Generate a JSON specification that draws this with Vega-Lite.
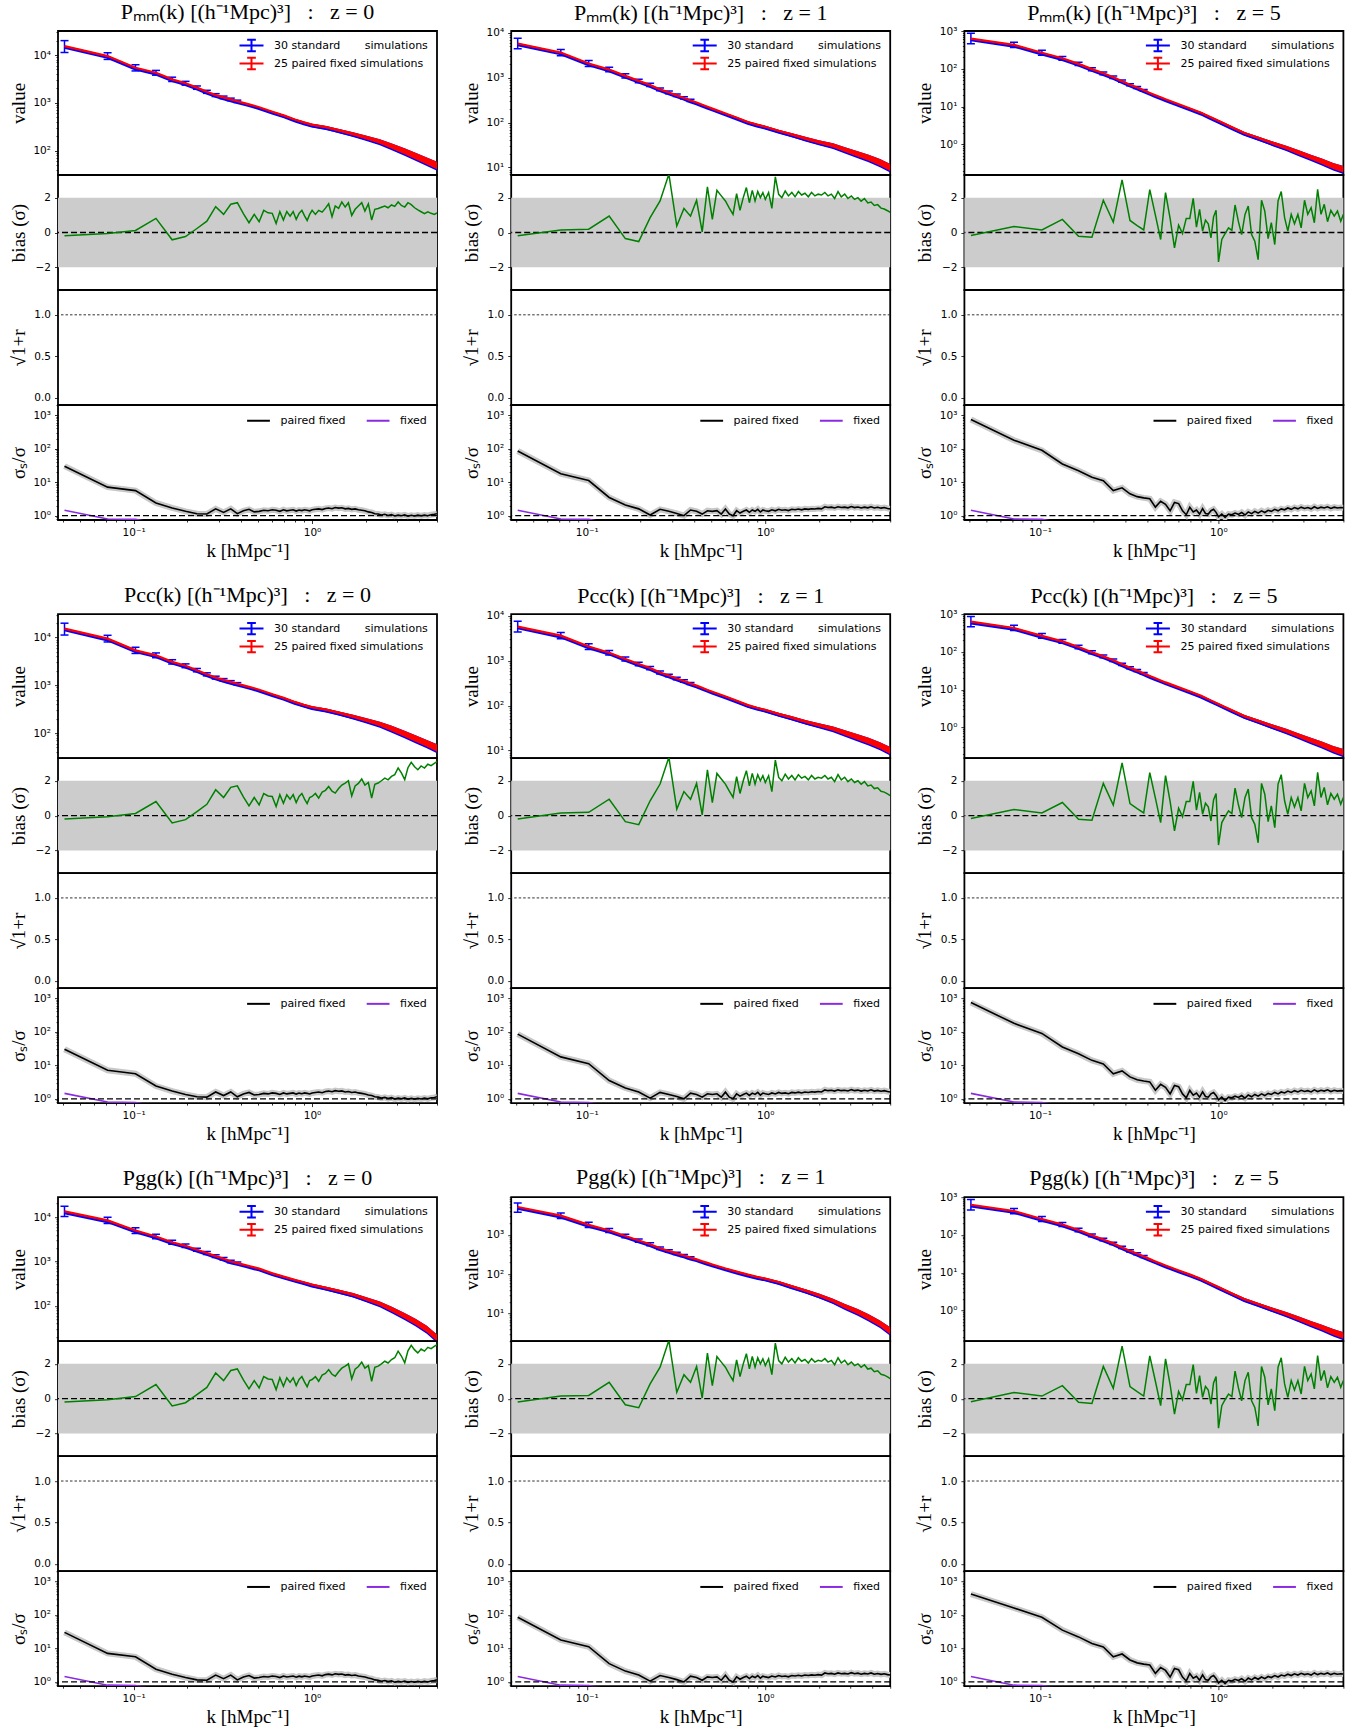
{
"$schema":"https://vega.github.io/schema/vega-lite/v6.json",
"background":"white",
"padding":{"left":8,"top":0,"right":5,"bottom":5},
"datasets":{
"main":[
{"k":0.041,"b0m":-0.19,"b0x":-0.19,"b1":-0.19,"b5":-0.17,"s0":30,"s1":85,"s5":740,"s5g":417},
{"k":0.0715,"b0m":-0.06,"b0x":-0.06,"b1":0.15,"b5":0.35,"s0":7.1,"s1":17.8,"s5":178,"s5g":160},
{"k":0.1025,"b0m":0.12,"b0x":0.12,"b1":0.19,"b5":0.15,"s0":5.6,"s1":11.2,"s5":89,"s5g":85},
{"k":0.1335,"b0m":0.81,"b0x":0.81,"b1":0.94,"b5":0.75,"s0":2.4,"s1":3.5,"s5":35,"s5g":35},
{"k":0.1645,"b0m":-0.42,"b0x":-0.42,"b1":-0.35,"b5":-0.21,"s0":1.7,"s1":2.1,"s5":22,"s5g":22},
{"k":0.1955,"b0m":-0.23,"b0x":-0.23,"b1":-0.52,"b5":-0.27,"s0":1.35,"s1":1.6,"s5":14,"s5g":14},
{"k":0.2265,"b0m":0.23,"b0x":0.23,"b1":0.85,"b5":1.85,"s0":1.15,"s1":1.05,"s5":11,"s5g":11},
{"k":0.2575,"b0m":0.65,"b0x":0.65,"b1":1.81,"b5":0.6,"s0":1.12,"s1":1.55,"s5":5.6,"s5g":5.6},
{"k":0.2885,"b0m":1.48,"b0x":1.48,"b1":3.35,"b5":3.02,"s0":1.6,"s1":1.35,"s5":6.8,"s5g":6.8},
{"k":0.3195,"b0m":1.04,"b0x":1.04,"b1":0.37,"b5":0.69,"s0":1.25,"s1":1.17,"s5":4.5,"s5g":4.5},
{"k":0.3505,"b0m":1.62,"b0x":1.62,"b1":1.38,"b5":0.4,"s0":1.6,"s1":1.0,"s5":3.7,"s5g":3.7},
{"k":0.3815,"b0m":1.71,"b0x":1.71,"b1":0.94,"b5":0.15,"s0":1.15,"s1":1.48,"s5":3.4,"s5g":3.4},
{"k":0.4125,"b0m":1.08,"b0x":1.08,"b1":1.85,"b5":2.46,"s0":1.4,"s1":1.35,"s5":3.2,"s5g":3.2},
{"k":0.4435,"b0m":0.56,"b0x":0.56,"b1":0.04,"b5":1.0,"s0":1.55,"s1":1.12,"s5":1.8,"s5g":1.8},
{"k":0.4745,"b0m":1.04,"b0x":1.04,"b1":2.62,"b5":-0.4,"s0":1.3,"s1":1.41,"s5":2.7,"s5g":2.7},
{"k":0.5055,"b0m":0.62,"b0x":0.62,"b1":0.75,"b5":2.29,"s0":1.35,"s1":1.35,"s5":2.2,"s5g":2.2},
{"k":0.5365,"b0m":1.27,"b0x":1.27,"b1":2.42,"b5":0.8,"s0":1.45,"s1":1.41,"s5":1.4,"s5g":1.4},
{"k":0.5675,"b0m":1.13,"b0x":1.13,"b1":2.1,"b5":-0.88,"s0":1.4,"s1":1.12,"s5":2.5,"s5g":2.5},
{"k":0.5985,"b0m":1.1,"b0x":1.1,"b1":1.81,"b5":0.42,"s0":1.5,"s1":1.58,"s5":2.3,"s5g":2.3},
{"k":0.6295,"b0m":0.52,"b0x":0.52,"b1":1.4,"b5":-0.06,"s0":1.45,"s1":1.12,"s5":1.4,"s5g":1.4},
{"k":0.6605,"b0m":1.2,"b0x":1.2,"b1":1.04,"b5":0.81,"s0":1.35,"s1":1.0,"s5":1.07,"s5g":1.07},
{"k":0.6915,"b0m":0.71,"b0x":0.71,"b1":2.23,"b5":0.81,"s0":1.5,"s1":1.41,"s5":1.78,"s5g":1.78},
{"k":0.7225,"b0m":1.2,"b0x":1.2,"b1":1.27,"b5":1.96,"s0":1.4,"s1":1.2,"s5":1.29,"s5g":1.29},
{"k":0.7535,"b0m":0.94,"b0x":0.94,"b1":2.0,"b5":0.31,"s0":1.45,"s1":1.35,"s5":1.48,"s5g":1.48},
{"k":0.7845,"b0m":1.2,"b0x":1.2,"b1":2.58,"b5":1.33,"s0":1.5,"s1":1.48,"s5":1.12,"s5g":1.12},
{"k":0.8155,"b0m":0.75,"b0x":0.75,"b1":1.71,"b5":0.08,"s0":1.38,"s1":1.26,"s5":1.62,"s5g":1.62},
{"k":0.8465,"b0m":1.1,"b0x":1.1,"b1":2.42,"b5":0.71,"s0":1.48,"s1":1.48,"s5":1.17,"s5g":1.17},
{"k":0.8775,"b0m":1.27,"b0x":1.27,"b1":1.81,"b5":0.5,"s0":1.42,"s1":1.35,"s5":1.12,"s5g":1.12},
{"k":0.9085,"b0m":0.95,"b0x":0.95,"b1":2.35,"b5":-0.31,"s0":1.5,"s1":1.55,"s5":1.41,"s5g":1.41},
{"k":0.9395,"b0m":0.69,"b0x":0.69,"b1":2.0,"b5":0.9,"s0":1.45,"s1":1.29,"s5":1.55,"s5g":1.55},
{"k":0.9705,"b0m":1.04,"b0x":1.04,"b1":2.29,"b5":1.27,"s0":1.4,"s1":1.48,"s5":1.26,"s5g":1.26},
{"k":1.0015,"b0m":1.27,"b0x":1.1,"b1":1.9,"b5":-1.69,"s0":1.5,"s1":1.41,"s5":0.93,"s5g":0.93},
{"k":1.045,"b0m":1.04,"b0x":1.27,"b1":2.29,"b5":-0.4,"s0":1.55,"s1":1.35,"s5":1.12,"s5g":1.12},
{"k":1.09,"b0m":1.27,"b0x":1.0,"b1":1.38,"b5":-0.06,"s0":1.6,"s1":1.5,"s5":0.89,"s5g":0.89},
{"k":1.14,"b0m":1.17,"b0x":1.35,"b1":3.19,"b5":0.27,"s0":1.52,"s1":1.4,"s5":1.12,"s5g":1.12},
{"k":1.19,"b0m":1.4,"b0x":1.45,"b1":2.19,"b5":0.12,"s0":1.65,"s1":1.55,"s5":1.07,"s5g":1.07},
{"k":1.24,"b0m":1.65,"b0x":1.67,"b1":2.0,"b5":1.58,"s0":1.7,"s1":1.45,"s5":1.2,"s5g":1.2},
{"k":1.295,"b0m":0.9,"b0x":1.4,"b1":2.38,"b5":0.62,"s0":1.62,"s1":1.5,"s5":1.1,"s5g":1.1},
{"k":1.35,"b0m":1.52,"b0x":1.29,"b1":2.1,"b5":-0.12,"s0":1.75,"s1":1.42,"s5":1.25,"s5g":1.25},
{"k":1.41,"b0m":1.38,"b0x":1.55,"b1":2.3,"b5":1.04,"s0":1.68,"s1":1.55,"s5":1.05,"s5g":1.05},
{"k":1.47,"b0m":1.75,"b0x":1.75,"b1":2.05,"b5":1.52,"s0":1.72,"s1":1.5,"s5":1.3,"s5g":1.3},
{"k":1.535,"b0m":1.46,"b0x":1.87,"b1":2.35,"b5":-0.12,"s0":1.6,"s1":1.58,"s5":1.15,"s5g":1.15},
{"k":1.6,"b0m":1.71,"b0x":2.0,"b1":2.15,"b5":-0.5,"s0":1.65,"s1":1.5,"s5":1.35,"s5g":1.35},
{"k":1.67,"b0m":0.98,"b0x":1.13,"b1":2.25,"b5":-1.56,"s0":1.55,"s1":1.6,"s5":1.2,"s5g":1.2},
{"k":1.745,"b0m":1.33,"b0x":1.7,"b1":2.05,"b5":1.85,"s0":1.6,"s1":1.55,"s5":1.4,"s5g":1.4},
{"k":1.82,"b0m":1.52,"b0x":1.85,"b1":2.3,"b5":1.23,"s0":1.5,"s1":1.62,"s5":1.25,"s5g":1.25},
{"k":1.9,"b0m":1.71,"b0x":2.1,"b1":2.1,"b5":-0.35,"s0":1.45,"s1":1.58,"s5":1.45,"s5g":1.45},
{"k":1.98,"b0m":1.23,"b0x":1.75,"b1":2.2,"b5":0.56,"s0":1.4,"s1":1.65,"s5":1.35,"s5g":1.35},
{"k":2.07,"b0m":1.65,"b0x":1.9,"b1":2.15,"b5":-0.69,"s0":1.3,"s1":1.6,"s5":1.55,"s5g":1.55},
{"k":2.16,"b0m":0.71,"b0x":1.0,"b1":2.3,"b5":1.81,"s0":1.25,"s1":1.85,"s5":1.4,"s5g":1.4},
{"k":2.25,"b0m":1.33,"b0x":1.8,"b1":2.1,"b5":2.35,"s0":1.15,"s1":1.75,"s5":1.6,"s5g":1.6},
{"k":2.35,"b0m":1.38,"b0x":1.87,"b1":2.2,"b5":0.85,"s0":1.12,"s1":1.8,"s5":1.5,"s5g":1.5},
{"k":2.45,"b0m":1.45,"b0x":2.0,"b1":1.95,"b5":0.08,"s0":1.05,"s1":1.7,"s5":1.7,"s5g":1.7},
{"k":2.56,"b0m":1.52,"b0x":2.15,"b1":2.35,"b5":1.04,"s0":1.1,"s1":1.85,"s5":1.55,"s5g":1.55},
{"k":2.67,"b0m":1.42,"b0x":2.05,"b1":2.05,"b5":0.5,"s0":1.02,"s1":1.75,"s5":1.75,"s5g":1.75},
{"k":2.79,"b0m":1.58,"b0x":2.25,"b1":2.2,"b5":1.04,"s0":1.08,"s1":1.8,"s5":1.6,"s5g":1.6},
{"k":2.91,"b0m":1.5,"b0x":2.35,"b1":1.95,"b5":0.27,"s0":0.98,"s1":1.72,"s5":1.8,"s5g":1.8},
{"k":3.04,"b0m":1.75,"b0x":2.73,"b1":2.1,"b5":1.85,"s0":1.05,"s1":1.88,"s5":1.65,"s5g":1.65},
{"k":3.17,"b0m":1.55,"b0x":2.45,"b1":1.9,"b5":1.04,"s0":1.0,"s1":1.75,"s5":1.75,"s5g":1.75},
{"k":3.31,"b0m":1.46,"b0x":2.06,"b1":2.0,"b5":1.42,"s0":1.06,"s1":1.82,"s5":1.6,"s5g":1.6},
{"k":3.45,"b0m":1.71,"b0x":2.75,"b1":1.8,"b5":0.56,"s0":0.97,"s1":1.7,"s5":1.85,"s5g":1.85},
{"k":3.6,"b0m":1.6,"b0x":3.06,"b1":1.95,"b5":2.48,"s0":1.03,"s1":1.8,"s5":1.65,"s5g":1.65},
{"k":3.76,"b0m":1.42,"b0x":2.8,"b1":1.7,"b5":1.04,"s0":0.98,"s1":1.72,"s5":1.8,"s5g":1.8},
{"k":3.92,"b0m":1.3,"b0x":2.63,"b1":1.75,"b5":1.62,"s0":1.04,"s1":1.85,"s5":1.7,"s5g":1.7},
{"k":4.09,"b0m":1.19,"b0x":2.85,"b1":1.55,"b5":0.62,"s0":0.99,"s1":1.7,"s5":1.85,"s5g":1.85},
{"k":4.27,"b0m":1.08,"b0x":2.73,"b1":1.6,"b5":1.27,"s0":1.05,"s1":1.78,"s5":1.65,"s5g":1.65},
{"k":4.46,"b0m":1.19,"b0x":2.95,"b1":1.4,"b5":0.94,"s0":1.0,"s1":1.68,"s5":1.8,"s5g":1.8},
{"k":4.65,"b0m":1.1,"b0x":2.87,"b1":1.35,"b5":1.23,"s0":1.07,"s1":1.75,"s5":1.7,"s5g":1.7},
{"k":4.85,"b0m":1.04,"b0x":3.0,"b1":1.25,"b5":0.65,"s0":1.1,"s1":1.65,"s5":1.75,"s5g":1.75},
{"k":5.02,"b0m":1.13,"b0x":3.1,"b1":1.15,"b5":1.04,"s0":1.15,"s1":1.6,"s5":1.72,"s5g":1.72}
],
"val":[
{"k":0.041,"v0":15400,"v0g":13400,"v1":5800,"v1g":5130,"v5":630,"e0l":11300,"e0h":20000,"e0gl":10300,"e0gh":17400,"e1l":4400,"e1h":7600,"e1gl":3750,"e1gh":6500,"e5l":460,"e5h":870},
{"k":0.0715,"v0":9500,"v0g":8400,"v1":3640,"v1g":3090,"v5":430,"e0l":8090,"e0h":11160,"e0gl":7150,"e0gh":9870,"e1l":3100,"e1h":4280,"e1gl":2630,"e1gh":3630,"e5l":366,"e5h":505},
{"k":0.1025,"v0":5400,"v0g":4970,"v1":2080,"v1g":1800,"v5":265,"e0l":4650,"e0h":6270,"e0gl":4280,"e0gh":5770,"e1l":1790,"e1h":2415,"e1gl":1550,"e1gh":2090,"e5l":228,"e5h":308},
{"k":0.1335,"v0":4250,"v0g":3650,"v1":1520,"v1g":1300,"v5":190,"e0l":3790,"e0h":4770,"e0gl":3250,"e0gh":4100,"e1l":1355,"e1h":1705,"e1gl":1160,"e1gh":1460,"e5l":169,"e5h":213},
{"k":0.1645,"v0":3100,"v0g":2700,"v1":1100,"v1g":940,"v5":135,"e0l":2795,"e0h":3440,"e0gl":2435,"e0gh":2995,"e1l":990,"e1h":1220,"e1gl":850,"e1gh":1040,"e5l":122,"e5h":150},
{"k":0.1955,"v0":2570,"v0g":2250,"v1":850,"v1g":720,"v5":98,"e0l":2345,"e0h":2815,"e0gl":2055,"e0gh":2465,"e1l":775,"e1h":930,"e1gl":655,"e1gh":790,"e5l":89.4,"e5h":107},
{"k":0.2265,"v0":2080,"v0g":1830,"v1":690,"v1g":580,"v5":76,"e0l":1920,"e0h":2255,"e0gl":1690,"e0gh":1985,"e1l":635,"e1h":750,"e1gl":535,"e1gh":630,"e5l":70,"e5h":82.4},
{"k":0.2575,"v0":1700,"v0g":1550,"v1":550,"v1g":460,"v5":60,"e0l":1580,"e0h":1830,"e0gl":1440,"e0gh":1670,"e1l":510,"e1h":590,"e1gl":428,"e1gh":495,"e5l":55.8,"e5h":64.6},
{"k":0.2885,"v0":1450,"v0g":1320,"v1":470,"v1g":390,"v5":47,"e0l":1355,"e0h":1555,"e0gl":1230,"e0gh":1415,"e1l":440,"e1h":505,"e1gl":364,"e1gh":418,"e5l":43.8,"e5h":50.4},
{"k":0.3195,"v0":1300,"v0g":1150,"v1":405,"v1g":340,"v5":38,"e0l":1220,"e0h":1385,"e0gl":1080,"e0gh":1225,"e1l":380,"e1h":432,"e1gl":319,"e1gh":363,"e5l":35.6,"e5h":40.5},
{"k":0.3505,"v0":1180,"v0g":1000,"v1":355,"v1g":300,"v5":32,"e0l":1110,"e0h":1255,"e0gl":940,"e0gh":1060,"e1l":335,"e1h":377,"e1gl":283,"e1gh":318,"e5l":30.1,"e5h":34},
{"k":0.3815,"v0":1080,"v0g":920,"v1":312,"v1g":265,"v5":27,"e0l":1020,"e0h":1140,"e0gl":870,"e0gh":970,"e1l":295,"e1h":330,"e1gl":251,"e1gh":280,"e5l":25.5,"e5h":28.5},
{"k":0.4125,"v0":1000,"v0g":850,"v1":280,"v1g":240,"v5":23},
{"k":0.4435,"v0":930,"v0g":790,"v1":250,"v1g":215,"v5":20},
{"k":0.4745,"v0":870,"v0g":735,"v1":225,"v1g":195,"v5":17.6},
{"k":0.5055,"v0":810,"v0g":690,"v1":205,"v1g":178,"v5":15.6},
{"k":0.6,"v0":650,"v0g":540,"v1":160,"v1g":140,"v5":11.5,"r0l":632,"r0h":668,"r0gl":525,"r0gh":555,"r1l":156,"r1h":164,"r1gl":136,"r1gh":144,"r5l":11.2,"r5h":11.8},
{"k":0.7,"v0":540,"v0g":450,"v1":127,"v1g":115,"v5":8.8,"r0l":523,"r0h":558,"r0gl":436,"r0gh":465,"r1l":123,"r1h":131,"r1gl":111,"r1gh":119,"r5l":8.5,"r5h":9.1},
{"k":0.8,"v0":450,"v0g":385,"v1":103,"v1g":98,"v5":6.9,"r0l":434,"r0h":467,"r0gl":371,"r0gh":400,"r1l":99,"r1h":107,"r1gl":94.2,"r1gh":102,"r5l":6.63,"r5h":7.18},
{"k":0.9,"v0":390,"v0g":340,"v1":90,"v1g":86,"v5":5.3,"r0l":374,"r0h":406,"r0gl":326,"r0gh":354,"r1l":86.4,"r1h":93.8,"r1gl":82.3,"r1gh":89.9,"r5l":5.07,"r5h":5.54},
{"k":1.0,"v0":350,"v0g":300,"v1":81,"v1g":78,"v5":4.2,"r0l":334,"r0h":366,"r0gl":287,"r0gh":314,"r1l":77.4,"r1h":84.8,"r1gl":74.3,"r1gh":81.9,"r5l":4.0,"r5h":4.41},
{"k":1.2,"v0":310,"v0g":255,"v1":65,"v1g":63,"v5":2.8,"r0l":293,"r0h":328,"r0gl":241,"r0gh":270,"r1l":61.5,"r1h":68.7,"r1gl":59.4,"r1gh":66.8,"r5l":2.64,"r5h":2.97},
{"k":1.4,"v0":270,"v0g":220,"v1":55,"v1g":50,"v5":2.0,"r0l":253,"r0h":288,"r0gl":206,"r0gh":235,"r1l":51.5,"r1h":58.7,"r1gl":46.7,"r1gh":53.5,"r5l":1.87,"r5h":2.14},
{"k":1.7,"v0":225,"v0g":180,"v1":44,"v1g":38,"v5":1.45,"r0l":208,"r0h":243,"r0gl":167,"r0gh":195,"r1l":40.7,"r1h":47.6,"r1gl":35,"r1gh":41.2,"r5l":1.34,"r5h":1.57},
{"k":2.0,"v0":190,"v0g":145,"v1":37,"v1g":29.5,"v5":1.1,"r0l":173,"r0h":208,"r0gl":132,"r0gh":159,"r1l":33.8,"r1h":40.6,"r1gl":26.8,"r1gh":32.5,"r5l":1.0,"r5h":1.21},
{"k":2.4,"v0":155,"v0g":112,"v1":31,"v1g":21.5,"v5":0.82,"r0l":139,"r0h":173,"r0gl":100,"r0gh":125,"r1l":27.8,"r1h":34.6,"r1gl":19.2,"r1gh":24.1,"r5l":0.73,"r5h":0.92},
{"k":2.8,"v0":125,"v0g":84,"v1":25,"v1g":15.5,"v5":0.62,"r0l":110,"r0h":142,"r0gl":74,"r0gh":95,"r1l":22,"r1h":28.4,"r1gl":13.6,"r1gh":17.7,"r5l":0.544,"r5h":0.707},
{"k":3.3,"v0":97,"v0g":60,"v1":20,"v1g":11.3,"v5":0.46,"r0l":84,"r0h":112,"r0gl":52,"r0gh":69,"r1l":17.3,"r1h":23.1,"r1gl":9.7,"r1gh":13.1,"r5l":0.397,"r5h":0.534},
{"k":3.8,"v0":77,"v0g":44,"v1":16.5,"v1g":8.2,"v5":0.36,"r0l":66,"r0h":90,"r0gl":37.6,"r0gh":51.4,"r1l":14.1,"r1h":19.3,"r1gl":6.9,"r1gh":9.7,"r5l":0.305,"r5h":0.425},
{"k":4.4,"v0":61,"v0g":30,"v1":13,"v1g":5.6,"v5":0.27,"r0l":51.6,"r0h":72.2,"r0gl":25.4,"r0gh":35.5,"r1l":11,"r1h":15.4,"r1gl":4.7,"r1gh":6.7,"r5l":0.225,"r5h":0.324},
{"k":5.02,"v0":49,"v0g":19,"v1":10,"v1g":3.7,"v5":0.22,"r0l":40.9,"r0h":58.7,"r0gl":15.9,"r0gh":22.7,"r1l":8.4,"r1h":12,"r1gl":3.0,"r1gh":4.5,"r5l":0.18,"r5h":0.268}
],
"fixed":[
{"k":0.041,"f":1.45},{"k":0.0715,"f":0.8},{"k":0.1025,"f":0.78},{"k":0.1335,"f":0.6}
]
},
"config":{
"view":{"stroke":"black","strokeWidth":1.8},
"axis":{"labelFont":"DejaVu Sans","labelFontSize":10.5,"labelColor":"black","tickColor":"black","tickWidth":0.8,"tickSize":3.5,"grid":false,"domain":false,"titleFont":"Liberation Serif","titleFontSize":19,"titleFontWeight":"normal","titleColor":"black","labelPadding":4,"labelOverlap":false,"labelFlush":false},
"axisY":{"minExtent":26,"maxExtent":26,"titlePadding":4},
"axisX":{"titlePadding":3.7},
"title":{"font":"Liberation Serif","fontSize":22,"fontWeight":"normal","color":"black","offset":3,"frame":"group"},
"legend":{"labelFont":"DejaVu Sans","labelFontSize":11,"labelColor":"black"}
},
"spacing":20.1,
"resolve":{"scale":{"color":"independent"}},
"vconcat":[
{"spacing":22.2,"resolve":{"scale":{"color":"independent"}},"hconcat":[
{"spacing":0,"bounds":"flush","resolve":{"scale":{"color":"independent"}},"vconcat":[
{"title":{"text":"Pₘₘ(k) [(h⁻¹Mpc)³]\u00a0\u00a0 :\u00a0\u00a0 z = 0","offset":3},"width":379,"height":144,"data":{"name":"val"},"layer":[
{"mark":{"type":"area","color":"blue","yOffset":1.5,"clip":true},"encoding":{"x":{"field":"k","type":"quantitative","scale":{"type":"log","domain":[0.0377,5.02],"nice":false},"axis":null},"y":{"field":"r0l","type":"quantitative","scale":{"type":"log","domain":[31,31800],"nice":false},"axis":{"title":"value","values":[40,50,60,70,80,90,100,200,300,400,500,600,700,800,900,1000,2000,3000,4000,5000,6000,7000,8000,9000,10000,20000,30000],"labelExpr":"datum.value == 1 ? '10⁰' : datum.value == 10 ? '10¹' : datum.value == 100 ? '10²' : datum.value == 1000 ? '10³' : datum.value == 10000 ? '10⁴' : ''","tickSize":{"condition":{"test":"indexof([1,10,100,1000,10000], datum.value) >= 0","value":3.5},"value":2}}},"y2":{"field":"r0h"}}},
{"mark":{"type":"line","color":"blue","strokeWidth":3.2,"yOffset":1.2,"clip":true},"encoding":{"x":{"field":"k","type":"quantitative","axis":null},"y":{"field":"v0","type":"quantitative"}}},
{"mark":{"type":"rule","color":"blue","strokeWidth":1.5,"clip":true},"encoding":{"x":{"field":"k","type":"quantitative","axis":null},"y":{"field":"e0l","type":"quantitative"},"y2":{"field":"e0h"}}},
{"mark":{"type":"tick","orient":"horizontal","color":"blue","size":8,"thickness":1.5,"opacity":1,"clip":true},"encoding":{"x":{"field":"k","type":"quantitative","axis":null},"y":{"field":"e0l","type":"quantitative"}}},
{"mark":{"type":"tick","orient":"horizontal","color":"blue","size":8,"thickness":1.5,"opacity":1,"clip":true},"encoding":{"x":{"field":"k","type":"quantitative","axis":null},"y":{"field":"e0h","type":"quantitative"}}},
{"mark":{"type":"area","color":"red","clip":true},"encoding":{"x":{"field":"k","type":"quantitative","axis":null},"y":{"field":"r0l","type":"quantitative"},"y2":{"field":"r0h"}}},
{"mark":{"type":"line","strokeWidth":2.2,"clip":true},"encoding":{"x":{"field":"k","type":"quantitative","axis":null},"y":{"field":"v0","type":"quantitative"},"color":{"datum":"25 paired fixed simulations","scale":{"domain":["30 standard\u00a0\u00a0\u00a0\u00a0\u00a0\u00a0\u00a0simulations","25 paired fixed simulations"],"range":["blue","red"]},"legend":{"title":null,"orient":"top-right","offset":9,"padding":0,"symbolType":"M-4,0H4M0,-1.9V1.9M-1.45,-1.9H1.45M-1.45,1.9H1.45","symbolSize":36,"symbolStrokeWidth":2,"labelOffset":17,"rowPadding":-3}}}}
]},
{"width":379,"height":115,"layer":[
{"data":{"values":[{}]},"mark":{"type":"rect","color":"#cccccc"},"encoding":{"y":{"datum":-2,"type":"quantitative","scale":{"domain":[-3.3,3.3],"nice":false,"zero":false},"axis":{"values":[-2,0,2],"title":"bias (σ)"}},"y2":{"datum":2}}},
{"data":{"values":[{}]},"mark":{"type":"rule","color":"black","strokeDash":[6,3],"strokeWidth":1.3},"encoding":{"y":{"datum":0,"type":"quantitative"}}},
{"data":{"name":"main"},"mark":{"type":"line","color":"green","strokeWidth":1.5,"clip":true},"encoding":{"x":{"field":"k","type":"quantitative","scale":{"type":"log","domain":[0.0377,5.02],"nice":false},"axis":null},"y":{"field":"b0m","type":"quantitative"}}}
]},
{"width":379,"height":115,"data":{"values":[{}]},"mark":{"type":"rule","color":"#333333","strokeDash":[2.5,2],"strokeWidth":1},"encoding":{"y":{"datum":1,"type":"quantitative","scale":{"domain":[-0.09,1.3],"nice":false,"zero":false},"axis":{"values":[0,0.5,1],"format":".1f","title":"√1+r"}}}},
{"width":379,"height":115,"layer":[
{"data":{"name":"main"},"mark":{"type":"line","color":"#c8c8c8","strokeWidth":6,"clip":true},"encoding":{"x":{"field":"k","type":"quantitative","scale":{"type":"log","domain":[0.0377,5.02],"nice":false},"axis":{"values":[0.04,0.05,0.06,0.07,0.08,0.09,0.1,0.2,0.3,0.4,0.5,0.6,0.7,0.8,0.9,1,2,3,4,5],"labelExpr":"datum.value == 0.1 ? '10⁻¹' : datum.value == 1 ? '10⁰' : ''","tickSize":{"condition":{"test":"datum.value == 0.1 || datum.value == 1","value":3.5},"value":2},"title":"k [hMpc⁻¹]"}},"y":{"field":"s0","type":"quantitative","scale":{"type":"log","domain":[0.745,2000],"nice":false},"axis":{"title":"σₛ/σ","values":[0.8,0.9,1,2,3,4,5,6,7,8,9,10,20,30,40,50,60,70,80,90,100,200,300,400,500,600,700,800,900,1000,2000],"labelExpr":"datum.value == 1 ? '10⁰' : datum.value == 10 ? '10¹' : datum.value == 100 ? '10²' : datum.value == 1000 ? '10³' : datum.value == 10000 ? '10⁴' : ''","tickSize":{"condition":{"test":"indexof([1,10,100,1000,10000], datum.value) >= 0","value":3.5},"value":2}}}}},
{"data":{"name":"main"},"mark":{"type":"line","strokeWidth":1.6,"clip":true},"encoding":{"x":{"field":"k","type":"quantitative"},"y":{"field":"s0","type":"quantitative"},"color":{"datum":"paired fixed","scale":{"domain":["paired fixed","fixed"],"range":["black","#8a2be2"]},"legend":{"title":null,"orient":"top-right","direction":"horizontal","offset":10,"padding":0,"symbolType":"M-3.8,0H3.8","symbolSize":36,"symbolStrokeWidth":2,"labelOffset":16.4,"columnPadding":16.6}}}},
{"data":{"name":"fixed"},"mark":{"type":"line","strokeWidth":1.6,"clip":true},"encoding":{"x":{"field":"k","type":"quantitative"},"y":{"field":"f","type":"quantitative"},"color":{"datum":"fixed"}}},
{"data":{"values":[{}]},"mark":{"type":"rule","color":"black","strokeDash":[6,3],"strokeWidth":1.3},"encoding":{"y":{"datum":1,"type":"quantitative"}}}
]}
]},
{"spacing":0,"bounds":"flush","resolve":{"scale":{"color":"independent"}},"vconcat":[
{"title":{"text":"Pₘₘ(k) [(h⁻¹Mpc)³]\u00a0\u00a0 :\u00a0\u00a0 z = 1","offset":3},"width":379,"height":144,"data":{"name":"val"},"layer":[
{"mark":{"type":"area","color":"blue","yOffset":1.5,"clip":true},"encoding":{"x":{"field":"k","type":"quantitative","scale":{"type":"log","domain":[0.0377,5.02],"nice":false},"axis":null},"y":{"field":"r1l","type":"quantitative","scale":{"type":"log","domain":[6.8,11000],"nice":false},"axis":{"title":"value","values":[7,8,9,10,20,30,40,50,60,70,80,90,100,200,300,400,500,600,700,800,900,1000,2000,3000,4000,5000,6000,7000,8000,9000,10000],"labelExpr":"datum.value == 1 ? '10⁰' : datum.value == 10 ? '10¹' : datum.value == 100 ? '10²' : datum.value == 1000 ? '10³' : datum.value == 10000 ? '10⁴' : ''","tickSize":{"condition":{"test":"indexof([1,10,100,1000,10000], datum.value) >= 0","value":3.5},"value":2}}},"y2":{"field":"r1h"}}},
{"mark":{"type":"line","color":"blue","strokeWidth":3.2,"yOffset":1.2,"clip":true},"encoding":{"x":{"field":"k","type":"quantitative","axis":null},"y":{"field":"v1","type":"quantitative"}}},
{"mark":{"type":"rule","color":"blue","strokeWidth":1.5,"clip":true},"encoding":{"x":{"field":"k","type":"quantitative","axis":null},"y":{"field":"e1l","type":"quantitative"},"y2":{"field":"e1h"}}},
{"mark":{"type":"tick","orient":"horizontal","color":"blue","size":8,"thickness":1.5,"opacity":1,"clip":true},"encoding":{"x":{"field":"k","type":"quantitative","axis":null},"y":{"field":"e1l","type":"quantitative"}}},
{"mark":{"type":"tick","orient":"horizontal","color":"blue","size":8,"thickness":1.5,"opacity":1,"clip":true},"encoding":{"x":{"field":"k","type":"quantitative","axis":null},"y":{"field":"e1h","type":"quantitative"}}},
{"mark":{"type":"area","color":"red","clip":true},"encoding":{"x":{"field":"k","type":"quantitative","axis":null},"y":{"field":"r1l","type":"quantitative"},"y2":{"field":"r1h"}}},
{"mark":{"type":"line","strokeWidth":2.2,"clip":true},"encoding":{"x":{"field":"k","type":"quantitative","axis":null},"y":{"field":"v1","type":"quantitative"},"color":{"datum":"25 paired fixed simulations","scale":{"domain":["30 standard\u00a0\u00a0\u00a0\u00a0\u00a0\u00a0\u00a0simulations","25 paired fixed simulations"],"range":["blue","red"]},"legend":{"title":null,"orient":"top-right","offset":9,"padding":0,"symbolType":"M-4,0H4M0,-1.9V1.9M-1.45,-1.9H1.45M-1.45,1.9H1.45","symbolSize":36,"symbolStrokeWidth":2,"labelOffset":17,"rowPadding":-3}}}}
]},
{"width":379,"height":115,"layer":[
{"data":{"values":[{}]},"mark":{"type":"rect","color":"#cccccc"},"encoding":{"y":{"datum":-2,"type":"quantitative","scale":{"domain":[-3.3,3.3],"nice":false,"zero":false},"axis":{"values":[-2,0,2],"title":"bias (σ)"}},"y2":{"datum":2}}},
{"data":{"values":[{}]},"mark":{"type":"rule","color":"black","strokeDash":[6,3],"strokeWidth":1.3},"encoding":{"y":{"datum":0,"type":"quantitative"}}},
{"data":{"name":"main"},"mark":{"type":"line","color":"green","strokeWidth":1.5,"clip":true},"encoding":{"x":{"field":"k","type":"quantitative","scale":{"type":"log","domain":[0.0377,5.02],"nice":false},"axis":null},"y":{"field":"b1","type":"quantitative"}}}
]},
{"width":379,"height":115,"data":{"values":[{}]},"mark":{"type":"rule","color":"#333333","strokeDash":[2.5,2],"strokeWidth":1},"encoding":{"y":{"datum":1,"type":"quantitative","scale":{"domain":[-0.09,1.3],"nice":false,"zero":false},"axis":{"values":[0,0.5,1],"format":".1f","title":"√1+r"}}}},
{"width":379,"height":115,"layer":[
{"data":{"name":"main"},"mark":{"type":"line","color":"#c8c8c8","strokeWidth":6,"clip":true},"encoding":{"x":{"field":"k","type":"quantitative","scale":{"type":"log","domain":[0.0377,5.02],"nice":false},"axis":{"values":[0.04,0.05,0.06,0.07,0.08,0.09,0.1,0.2,0.3,0.4,0.5,0.6,0.7,0.8,0.9,1,2,3,4,5],"labelExpr":"datum.value == 0.1 ? '10⁻¹' : datum.value == 1 ? '10⁰' : ''","tickSize":{"condition":{"test":"datum.value == 0.1 || datum.value == 1","value":3.5},"value":2},"title":"k [hMpc⁻¹]"}},"y":{"field":"s1","type":"quantitative","scale":{"type":"log","domain":[0.745,2000],"nice":false},"axis":{"title":"σₛ/σ","values":[0.8,0.9,1,2,3,4,5,6,7,8,9,10,20,30,40,50,60,70,80,90,100,200,300,400,500,600,700,800,900,1000,2000],"labelExpr":"datum.value == 1 ? '10⁰' : datum.value == 10 ? '10¹' : datum.value == 100 ? '10²' : datum.value == 1000 ? '10³' : datum.value == 10000 ? '10⁴' : ''","tickSize":{"condition":{"test":"indexof([1,10,100,1000,10000], datum.value) >= 0","value":3.5},"value":2}}}}},
{"data":{"name":"main"},"mark":{"type":"line","strokeWidth":1.6,"clip":true},"encoding":{"x":{"field":"k","type":"quantitative"},"y":{"field":"s1","type":"quantitative"},"color":{"datum":"paired fixed","scale":{"domain":["paired fixed","fixed"],"range":["black","#8a2be2"]},"legend":{"title":null,"orient":"top-right","direction":"horizontal","offset":10,"padding":0,"symbolType":"M-3.8,0H3.8","symbolSize":36,"symbolStrokeWidth":2,"labelOffset":16.4,"columnPadding":16.6}}}},
{"data":{"name":"fixed"},"mark":{"type":"line","strokeWidth":1.6,"clip":true},"encoding":{"x":{"field":"k","type":"quantitative"},"y":{"field":"f","type":"quantitative"},"color":{"datum":"fixed"}}},
{"data":{"values":[{}]},"mark":{"type":"rule","color":"black","strokeDash":[6,3],"strokeWidth":1.3},"encoding":{"y":{"datum":1,"type":"quantitative"}}}
]}
]},
{"spacing":0,"bounds":"flush","resolve":{"scale":{"color":"independent"}},"vconcat":[
{"title":{"text":"Pₘₘ(k) [(h⁻¹Mpc)³]\u00a0\u00a0 :\u00a0\u00a0 z = 5","offset":1},"width":379,"height":144,"data":{"name":"val"},"layer":[
{"mark":{"type":"area","color":"blue","yOffset":1.5,"clip":true},"encoding":{"x":{"field":"k","type":"quantitative","scale":{"type":"log","domain":[0.0377,5.02],"nice":false},"axis":null},"y":{"field":"r5l","type":"quantitative","scale":{"type":"log","domain":[0.155,1000],"nice":false},"axis":{"title":"value","values":[0.2,0.3,0.4,0.5,0.6,0.7,0.8,0.9,1,2,3,4,5,6,7,8,9,10,20,30,40,50,60,70,80,90,100,200,300,400,500,600,700,800,900,1000],"labelExpr":"datum.value == 1 ? '10⁰' : datum.value == 10 ? '10¹' : datum.value == 100 ? '10²' : datum.value == 1000 ? '10³' : datum.value == 10000 ? '10⁴' : ''","tickSize":{"condition":{"test":"indexof([1,10,100,1000,10000], datum.value) >= 0","value":3.5},"value":2}}},"y2":{"field":"r5h"}}},
{"mark":{"type":"line","color":"blue","strokeWidth":3.2,"yOffset":1.2,"clip":true},"encoding":{"x":{"field":"k","type":"quantitative","axis":null},"y":{"field":"v5","type":"quantitative"}}},
{"mark":{"type":"rule","color":"blue","strokeWidth":1.5,"clip":true},"encoding":{"x":{"field":"k","type":"quantitative","axis":null},"y":{"field":"e5l","type":"quantitative"},"y2":{"field":"e5h"}}},
{"mark":{"type":"tick","orient":"horizontal","color":"blue","size":8,"thickness":1.5,"opacity":1,"clip":true},"encoding":{"x":{"field":"k","type":"quantitative","axis":null},"y":{"field":"e5l","type":"quantitative"}}},
{"mark":{"type":"tick","orient":"horizontal","color":"blue","size":8,"thickness":1.5,"opacity":1,"clip":true},"encoding":{"x":{"field":"k","type":"quantitative","axis":null},"y":{"field":"e5h","type":"quantitative"}}},
{"mark":{"type":"area","color":"red","clip":true},"encoding":{"x":{"field":"k","type":"quantitative","axis":null},"y":{"field":"r5l","type":"quantitative"},"y2":{"field":"r5h"}}},
{"mark":{"type":"line","strokeWidth":2.2,"clip":true},"encoding":{"x":{"field":"k","type":"quantitative","axis":null},"y":{"field":"v5","type":"quantitative"},"color":{"datum":"25 paired fixed simulations","scale":{"domain":["30 standard\u00a0\u00a0\u00a0\u00a0\u00a0\u00a0\u00a0simulations","25 paired fixed simulations"],"range":["blue","red"]},"legend":{"title":null,"orient":"top-right","offset":9,"padding":0,"symbolType":"M-4,0H4M0,-1.9V1.9M-1.45,-1.9H1.45M-1.45,1.9H1.45","symbolSize":36,"symbolStrokeWidth":2,"labelOffset":17,"rowPadding":-3}}}}
]},
{"width":379,"height":115,"layer":[
{"data":{"values":[{}]},"mark":{"type":"rect","color":"#cccccc"},"encoding":{"y":{"datum":-2,"type":"quantitative","scale":{"domain":[-3.3,3.3],"nice":false,"zero":false},"axis":{"values":[-2,0,2],"title":"bias (σ)"}},"y2":{"datum":2}}},
{"data":{"values":[{}]},"mark":{"type":"rule","color":"black","strokeDash":[6,3],"strokeWidth":1.3},"encoding":{"y":{"datum":0,"type":"quantitative"}}},
{"data":{"name":"main"},"mark":{"type":"line","color":"green","strokeWidth":1.5,"clip":true},"encoding":{"x":{"field":"k","type":"quantitative","scale":{"type":"log","domain":[0.0377,5.02],"nice":false},"axis":null},"y":{"field":"b5","type":"quantitative"}}}
]},
{"width":379,"height":115,"data":{"values":[{}]},"mark":{"type":"rule","color":"#333333","strokeDash":[2.5,2],"strokeWidth":1},"encoding":{"y":{"datum":1,"type":"quantitative","scale":{"domain":[-0.09,1.3],"nice":false,"zero":false},"axis":{"values":[0,0.5,1],"format":".1f","title":"√1+r"}}}},
{"width":379,"height":115,"layer":[
{"data":{"name":"main"},"mark":{"type":"line","color":"#c8c8c8","strokeWidth":6,"clip":true},"encoding":{"x":{"field":"k","type":"quantitative","scale":{"type":"log","domain":[0.0377,5.02],"nice":false},"axis":{"values":[0.04,0.05,0.06,0.07,0.08,0.09,0.1,0.2,0.3,0.4,0.5,0.6,0.7,0.8,0.9,1,2,3,4,5],"labelExpr":"datum.value == 0.1 ? '10⁻¹' : datum.value == 1 ? '10⁰' : ''","tickSize":{"condition":{"test":"datum.value == 0.1 || datum.value == 1","value":3.5},"value":2},"title":"k [hMpc⁻¹]"}},"y":{"field":"s5","type":"quantitative","scale":{"type":"log","domain":[0.745,2000],"nice":false},"axis":{"title":"σₛ/σ","values":[0.8,0.9,1,2,3,4,5,6,7,8,9,10,20,30,40,50,60,70,80,90,100,200,300,400,500,600,700,800,900,1000,2000],"labelExpr":"datum.value == 1 ? '10⁰' : datum.value == 10 ? '10¹' : datum.value == 100 ? '10²' : datum.value == 1000 ? '10³' : datum.value == 10000 ? '10⁴' : ''","tickSize":{"condition":{"test":"indexof([1,10,100,1000,10000], datum.value) >= 0","value":3.5},"value":2}}}}},
{"data":{"name":"main"},"mark":{"type":"line","strokeWidth":1.6,"clip":true},"encoding":{"x":{"field":"k","type":"quantitative"},"y":{"field":"s5","type":"quantitative"},"color":{"datum":"paired fixed","scale":{"domain":["paired fixed","fixed"],"range":["black","#8a2be2"]},"legend":{"title":null,"orient":"top-right","direction":"horizontal","offset":10,"padding":0,"symbolType":"M-3.8,0H3.8","symbolSize":36,"symbolStrokeWidth":2,"labelOffset":16.4,"columnPadding":16.6}}}},
{"data":{"name":"fixed"},"mark":{"type":"line","strokeWidth":1.6,"clip":true},"encoding":{"x":{"field":"k","type":"quantitative"},"y":{"field":"f","type":"quantitative"},"color":{"datum":"fixed"}}},
{"data":{"values":[{}]},"mark":{"type":"rule","color":"black","strokeDash":[6,3],"strokeWidth":1.3},"encoding":{"y":{"datum":1,"type":"quantitative"}}}
]}
]}
]},
{"spacing":22.2,"resolve":{"scale":{"color":"independent"}},"hconcat":[
{"spacing":0,"bounds":"flush","resolve":{"scale":{"color":"independent"}},"vconcat":[
{"title":{"text":"Pcc(k) [(h⁻¹Mpc)³]\u00a0\u00a0 :\u00a0\u00a0 z = 0","offset":3},"width":379,"height":144,"data":{"name":"val"},"layer":[
{"mark":{"type":"area","color":"blue","yOffset":1.5,"clip":true},"encoding":{"x":{"field":"k","type":"quantitative","scale":{"type":"log","domain":[0.0377,5.02],"nice":false},"axis":null},"y":{"field":"r0l","type":"quantitative","scale":{"type":"log","domain":[30,31000],"nice":false},"axis":{"title":"value","values":[40,50,60,70,80,90,100,200,300,400,500,600,700,800,900,1000,2000,3000,4000,5000,6000,7000,8000,9000,10000,20000,30000],"labelExpr":"datum.value == 1 ? '10⁰' : datum.value == 10 ? '10¹' : datum.value == 100 ? '10²' : datum.value == 1000 ? '10³' : datum.value == 10000 ? '10⁴' : ''","tickSize":{"condition":{"test":"indexof([1,10,100,1000,10000], datum.value) >= 0","value":3.5},"value":2}}},"y2":{"field":"r0h"}}},
{"mark":{"type":"line","color":"blue","strokeWidth":3.2,"yOffset":1.2,"clip":true},"encoding":{"x":{"field":"k","type":"quantitative","axis":null},"y":{"field":"v0","type":"quantitative"}}},
{"mark":{"type":"rule","color":"blue","strokeWidth":1.5,"clip":true},"encoding":{"x":{"field":"k","type":"quantitative","axis":null},"y":{"field":"e0l","type":"quantitative"},"y2":{"field":"e0h"}}},
{"mark":{"type":"tick","orient":"horizontal","color":"blue","size":8,"thickness":1.5,"opacity":1,"clip":true},"encoding":{"x":{"field":"k","type":"quantitative","axis":null},"y":{"field":"e0l","type":"quantitative"}}},
{"mark":{"type":"tick","orient":"horizontal","color":"blue","size":8,"thickness":1.5,"opacity":1,"clip":true},"encoding":{"x":{"field":"k","type":"quantitative","axis":null},"y":{"field":"e0h","type":"quantitative"}}},
{"mark":{"type":"area","color":"red","clip":true},"encoding":{"x":{"field":"k","type":"quantitative","axis":null},"y":{"field":"r0l","type":"quantitative"},"y2":{"field":"r0h"}}},
{"mark":{"type":"line","strokeWidth":2.2,"clip":true},"encoding":{"x":{"field":"k","type":"quantitative","axis":null},"y":{"field":"v0","type":"quantitative"},"color":{"datum":"25 paired fixed simulations","scale":{"domain":["30 standard\u00a0\u00a0\u00a0\u00a0\u00a0\u00a0\u00a0simulations","25 paired fixed simulations"],"range":["blue","red"]},"legend":{"title":null,"orient":"top-right","offset":9,"padding":0,"symbolType":"M-4,0H4M0,-1.9V1.9M-1.45,-1.9H1.45M-1.45,1.9H1.45","symbolSize":36,"symbolStrokeWidth":2,"labelOffset":17,"rowPadding":-3}}}}
]},
{"width":379,"height":115,"layer":[
{"data":{"values":[{}]},"mark":{"type":"rect","color":"#cccccc"},"encoding":{"y":{"datum":-2,"type":"quantitative","scale":{"domain":[-3.3,3.3],"nice":false,"zero":false},"axis":{"values":[-2,0,2],"title":"bias (σ)"}},"y2":{"datum":2}}},
{"data":{"values":[{}]},"mark":{"type":"rule","color":"black","strokeDash":[6,3],"strokeWidth":1.3},"encoding":{"y":{"datum":0,"type":"quantitative"}}},
{"data":{"name":"main"},"mark":{"type":"line","color":"green","strokeWidth":1.5,"clip":true},"encoding":{"x":{"field":"k","type":"quantitative","scale":{"type":"log","domain":[0.0377,5.02],"nice":false},"axis":null},"y":{"field":"b0x","type":"quantitative"}}}
]},
{"width":379,"height":115,"data":{"values":[{}]},"mark":{"type":"rule","color":"#333333","strokeDash":[2.5,2],"strokeWidth":1},"encoding":{"y":{"datum":1,"type":"quantitative","scale":{"domain":[-0.09,1.3],"nice":false,"zero":false},"axis":{"values":[0,0.5,1],"format":".1f","title":"√1+r"}}}},
{"width":379,"height":115,"layer":[
{"data":{"name":"main"},"mark":{"type":"line","color":"#c8c8c8","strokeWidth":6,"clip":true},"encoding":{"x":{"field":"k","type":"quantitative","scale":{"type":"log","domain":[0.0377,5.02],"nice":false},"axis":{"values":[0.04,0.05,0.06,0.07,0.08,0.09,0.1,0.2,0.3,0.4,0.5,0.6,0.7,0.8,0.9,1,2,3,4,5],"labelExpr":"datum.value == 0.1 ? '10⁻¹' : datum.value == 1 ? '10⁰' : ''","tickSize":{"condition":{"test":"datum.value == 0.1 || datum.value == 1","value":3.5},"value":2},"title":"k [hMpc⁻¹]"}},"y":{"field":"s0","type":"quantitative","scale":{"type":"log","domain":[0.745,2000],"nice":false},"axis":{"title":"σₛ/σ","values":[0.8,0.9,1,2,3,4,5,6,7,8,9,10,20,30,40,50,60,70,80,90,100,200,300,400,500,600,700,800,900,1000,2000],"labelExpr":"datum.value == 1 ? '10⁰' : datum.value == 10 ? '10¹' : datum.value == 100 ? '10²' : datum.value == 1000 ? '10³' : datum.value == 10000 ? '10⁴' : ''","tickSize":{"condition":{"test":"indexof([1,10,100,1000,10000], datum.value) >= 0","value":3.5},"value":2}}}}},
{"data":{"name":"main"},"mark":{"type":"line","strokeWidth":1.6,"clip":true},"encoding":{"x":{"field":"k","type":"quantitative"},"y":{"field":"s0","type":"quantitative"},"color":{"datum":"paired fixed","scale":{"domain":["paired fixed","fixed"],"range":["black","#8a2be2"]},"legend":{"title":null,"orient":"top-right","direction":"horizontal","offset":10,"padding":0,"symbolType":"M-3.8,0H3.8","symbolSize":36,"symbolStrokeWidth":2,"labelOffset":16.4,"columnPadding":16.6}}}},
{"data":{"name":"fixed"},"mark":{"type":"line","strokeWidth":1.6,"clip":true},"encoding":{"x":{"field":"k","type":"quantitative"},"y":{"field":"f","type":"quantitative"},"color":{"datum":"fixed"}}},
{"data":{"values":[{}]},"mark":{"type":"rule","color":"black","strokeDash":[6,3],"strokeWidth":1.3},"encoding":{"y":{"datum":1,"type":"quantitative"}}}
]}
]},
{"spacing":0,"bounds":"flush","resolve":{"scale":{"color":"independent"}},"vconcat":[
{"title":{"text":"Pcc(k) [(h⁻¹Mpc)³]\u00a0\u00a0 :\u00a0\u00a0 z = 1","offset":3},"width":379,"height":144,"data":{"name":"val"},"layer":[
{"mark":{"type":"area","color":"blue","yOffset":1.5,"clip":true},"encoding":{"x":{"field":"k","type":"quantitative","scale":{"type":"log","domain":[0.0377,5.02],"nice":false},"axis":null},"y":{"field":"r1l","type":"quantitative","scale":{"type":"log","domain":[6.8,11000],"nice":false},"axis":{"title":"value","values":[7,8,9,10,20,30,40,50,60,70,80,90,100,200,300,400,500,600,700,800,900,1000,2000,3000,4000,5000,6000,7000,8000,9000,10000],"labelExpr":"datum.value == 1 ? '10⁰' : datum.value == 10 ? '10¹' : datum.value == 100 ? '10²' : datum.value == 1000 ? '10³' : datum.value == 10000 ? '10⁴' : ''","tickSize":{"condition":{"test":"indexof([1,10,100,1000,10000], datum.value) >= 0","value":3.5},"value":2}}},"y2":{"field":"r1h"}}},
{"mark":{"type":"line","color":"blue","strokeWidth":3.2,"yOffset":1.2,"clip":true},"encoding":{"x":{"field":"k","type":"quantitative","axis":null},"y":{"field":"v1","type":"quantitative"}}},
{"mark":{"type":"rule","color":"blue","strokeWidth":1.5,"clip":true},"encoding":{"x":{"field":"k","type":"quantitative","axis":null},"y":{"field":"e1l","type":"quantitative"},"y2":{"field":"e1h"}}},
{"mark":{"type":"tick","orient":"horizontal","color":"blue","size":8,"thickness":1.5,"opacity":1,"clip":true},"encoding":{"x":{"field":"k","type":"quantitative","axis":null},"y":{"field":"e1l","type":"quantitative"}}},
{"mark":{"type":"tick","orient":"horizontal","color":"blue","size":8,"thickness":1.5,"opacity":1,"clip":true},"encoding":{"x":{"field":"k","type":"quantitative","axis":null},"y":{"field":"e1h","type":"quantitative"}}},
{"mark":{"type":"area","color":"red","clip":true},"encoding":{"x":{"field":"k","type":"quantitative","axis":null},"y":{"field":"r1l","type":"quantitative"},"y2":{"field":"r1h"}}},
{"mark":{"type":"line","strokeWidth":2.2,"clip":true},"encoding":{"x":{"field":"k","type":"quantitative","axis":null},"y":{"field":"v1","type":"quantitative"},"color":{"datum":"25 paired fixed simulations","scale":{"domain":["30 standard\u00a0\u00a0\u00a0\u00a0\u00a0\u00a0\u00a0simulations","25 paired fixed simulations"],"range":["blue","red"]},"legend":{"title":null,"orient":"top-right","offset":9,"padding":0,"symbolType":"M-4,0H4M0,-1.9V1.9M-1.45,-1.9H1.45M-1.45,1.9H1.45","symbolSize":36,"symbolStrokeWidth":2,"labelOffset":17,"rowPadding":-3}}}}
]},
{"width":379,"height":115,"layer":[
{"data":{"values":[{}]},"mark":{"type":"rect","color":"#cccccc"},"encoding":{"y":{"datum":-2,"type":"quantitative","scale":{"domain":[-3.3,3.3],"nice":false,"zero":false},"axis":{"values":[-2,0,2],"title":"bias (σ)"}},"y2":{"datum":2}}},
{"data":{"values":[{}]},"mark":{"type":"rule","color":"black","strokeDash":[6,3],"strokeWidth":1.3},"encoding":{"y":{"datum":0,"type":"quantitative"}}},
{"data":{"name":"main"},"mark":{"type":"line","color":"green","strokeWidth":1.5,"clip":true},"encoding":{"x":{"field":"k","type":"quantitative","scale":{"type":"log","domain":[0.0377,5.02],"nice":false},"axis":null},"y":{"field":"b1","type":"quantitative"}}}
]},
{"width":379,"height":115,"data":{"values":[{}]},"mark":{"type":"rule","color":"#333333","strokeDash":[2.5,2],"strokeWidth":1},"encoding":{"y":{"datum":1,"type":"quantitative","scale":{"domain":[-0.09,1.3],"nice":false,"zero":false},"axis":{"values":[0,0.5,1],"format":".1f","title":"√1+r"}}}},
{"width":379,"height":115,"layer":[
{"data":{"name":"main"},"mark":{"type":"line","color":"#c8c8c8","strokeWidth":6,"clip":true},"encoding":{"x":{"field":"k","type":"quantitative","scale":{"type":"log","domain":[0.0377,5.02],"nice":false},"axis":{"values":[0.04,0.05,0.06,0.07,0.08,0.09,0.1,0.2,0.3,0.4,0.5,0.6,0.7,0.8,0.9,1,2,3,4,5],"labelExpr":"datum.value == 0.1 ? '10⁻¹' : datum.value == 1 ? '10⁰' : ''","tickSize":{"condition":{"test":"datum.value == 0.1 || datum.value == 1","value":3.5},"value":2},"title":"k [hMpc⁻¹]"}},"y":{"field":"s1","type":"quantitative","scale":{"type":"log","domain":[0.745,2000],"nice":false},"axis":{"title":"σₛ/σ","values":[0.8,0.9,1,2,3,4,5,6,7,8,9,10,20,30,40,50,60,70,80,90,100,200,300,400,500,600,700,800,900,1000,2000],"labelExpr":"datum.value == 1 ? '10⁰' : datum.value == 10 ? '10¹' : datum.value == 100 ? '10²' : datum.value == 1000 ? '10³' : datum.value == 10000 ? '10⁴' : ''","tickSize":{"condition":{"test":"indexof([1,10,100,1000,10000], datum.value) >= 0","value":3.5},"value":2}}}}},
{"data":{"name":"main"},"mark":{"type":"line","strokeWidth":1.6,"clip":true},"encoding":{"x":{"field":"k","type":"quantitative"},"y":{"field":"s1","type":"quantitative"},"color":{"datum":"paired fixed","scale":{"domain":["paired fixed","fixed"],"range":["black","#8a2be2"]},"legend":{"title":null,"orient":"top-right","direction":"horizontal","offset":10,"padding":0,"symbolType":"M-3.8,0H3.8","symbolSize":36,"symbolStrokeWidth":2,"labelOffset":16.4,"columnPadding":16.6}}}},
{"data":{"name":"fixed"},"mark":{"type":"line","strokeWidth":1.6,"clip":true},"encoding":{"x":{"field":"k","type":"quantitative"},"y":{"field":"f","type":"quantitative"},"color":{"datum":"fixed"}}},
{"data":{"values":[{}]},"mark":{"type":"rule","color":"black","strokeDash":[6,3],"strokeWidth":1.3},"encoding":{"y":{"datum":1,"type":"quantitative"}}}
]}
]},
{"spacing":0,"bounds":"flush","resolve":{"scale":{"color":"independent"}},"vconcat":[
{"title":{"text":"Pcc(k) [(h⁻¹Mpc)³]\u00a0\u00a0 :\u00a0\u00a0 z = 5","offset":1},"width":379,"height":144,"data":{"name":"val"},"layer":[
{"mark":{"type":"area","color":"blue","yOffset":1.5,"clip":true},"encoding":{"x":{"field":"k","type":"quantitative","scale":{"type":"log","domain":[0.0377,5.02],"nice":false},"axis":null},"y":{"field":"r5l","type":"quantitative","scale":{"type":"log","domain":[0.155,1000],"nice":false},"axis":{"title":"value","values":[0.2,0.3,0.4,0.5,0.6,0.7,0.8,0.9,1,2,3,4,5,6,7,8,9,10,20,30,40,50,60,70,80,90,100,200,300,400,500,600,700,800,900,1000],"labelExpr":"datum.value == 1 ? '10⁰' : datum.value == 10 ? '10¹' : datum.value == 100 ? '10²' : datum.value == 1000 ? '10³' : datum.value == 10000 ? '10⁴' : ''","tickSize":{"condition":{"test":"indexof([1,10,100,1000,10000], datum.value) >= 0","value":3.5},"value":2}}},"y2":{"field":"r5h"}}},
{"mark":{"type":"line","color":"blue","strokeWidth":3.2,"yOffset":1.2,"clip":true},"encoding":{"x":{"field":"k","type":"quantitative","axis":null},"y":{"field":"v5","type":"quantitative"}}},
{"mark":{"type":"rule","color":"blue","strokeWidth":1.5,"clip":true},"encoding":{"x":{"field":"k","type":"quantitative","axis":null},"y":{"field":"e5l","type":"quantitative"},"y2":{"field":"e5h"}}},
{"mark":{"type":"tick","orient":"horizontal","color":"blue","size":8,"thickness":1.5,"opacity":1,"clip":true},"encoding":{"x":{"field":"k","type":"quantitative","axis":null},"y":{"field":"e5l","type":"quantitative"}}},
{"mark":{"type":"tick","orient":"horizontal","color":"blue","size":8,"thickness":1.5,"opacity":1,"clip":true},"encoding":{"x":{"field":"k","type":"quantitative","axis":null},"y":{"field":"e5h","type":"quantitative"}}},
{"mark":{"type":"area","color":"red","clip":true},"encoding":{"x":{"field":"k","type":"quantitative","axis":null},"y":{"field":"r5l","type":"quantitative"},"y2":{"field":"r5h"}}},
{"mark":{"type":"line","strokeWidth":2.2,"clip":true},"encoding":{"x":{"field":"k","type":"quantitative","axis":null},"y":{"field":"v5","type":"quantitative"},"color":{"datum":"25 paired fixed simulations","scale":{"domain":["30 standard\u00a0\u00a0\u00a0\u00a0\u00a0\u00a0\u00a0simulations","25 paired fixed simulations"],"range":["blue","red"]},"legend":{"title":null,"orient":"top-right","offset":9,"padding":0,"symbolType":"M-4,0H4M0,-1.9V1.9M-1.45,-1.9H1.45M-1.45,1.9H1.45","symbolSize":36,"symbolStrokeWidth":2,"labelOffset":17,"rowPadding":-3}}}}
]},
{"width":379,"height":115,"layer":[
{"data":{"values":[{}]},"mark":{"type":"rect","color":"#cccccc"},"encoding":{"y":{"datum":-2,"type":"quantitative","scale":{"domain":[-3.3,3.3],"nice":false,"zero":false},"axis":{"values":[-2,0,2],"title":"bias (σ)"}},"y2":{"datum":2}}},
{"data":{"values":[{}]},"mark":{"type":"rule","color":"black","strokeDash":[6,3],"strokeWidth":1.3},"encoding":{"y":{"datum":0,"type":"quantitative"}}},
{"data":{"name":"main"},"mark":{"type":"line","color":"green","strokeWidth":1.5,"clip":true},"encoding":{"x":{"field":"k","type":"quantitative","scale":{"type":"log","domain":[0.0377,5.02],"nice":false},"axis":null},"y":{"field":"b5","type":"quantitative"}}}
]},
{"width":379,"height":115,"data":{"values":[{}]},"mark":{"type":"rule","color":"#333333","strokeDash":[2.5,2],"strokeWidth":1},"encoding":{"y":{"datum":1,"type":"quantitative","scale":{"domain":[-0.09,1.3],"nice":false,"zero":false},"axis":{"values":[0,0.5,1],"format":".1f","title":"√1+r"}}}},
{"width":379,"height":115,"layer":[
{"data":{"name":"main"},"mark":{"type":"line","color":"#c8c8c8","strokeWidth":6,"clip":true},"encoding":{"x":{"field":"k","type":"quantitative","scale":{"type":"log","domain":[0.0377,5.02],"nice":false},"axis":{"values":[0.04,0.05,0.06,0.07,0.08,0.09,0.1,0.2,0.3,0.4,0.5,0.6,0.7,0.8,0.9,1,2,3,4,5],"labelExpr":"datum.value == 0.1 ? '10⁻¹' : datum.value == 1 ? '10⁰' : ''","tickSize":{"condition":{"test":"datum.value == 0.1 || datum.value == 1","value":3.5},"value":2},"title":"k [hMpc⁻¹]"}},"y":{"field":"s5","type":"quantitative","scale":{"type":"log","domain":[0.745,2000],"nice":false},"axis":{"title":"σₛ/σ","values":[0.8,0.9,1,2,3,4,5,6,7,8,9,10,20,30,40,50,60,70,80,90,100,200,300,400,500,600,700,800,900,1000,2000],"labelExpr":"datum.value == 1 ? '10⁰' : datum.value == 10 ? '10¹' : datum.value == 100 ? '10²' : datum.value == 1000 ? '10³' : datum.value == 10000 ? '10⁴' : ''","tickSize":{"condition":{"test":"indexof([1,10,100,1000,10000], datum.value) >= 0","value":3.5},"value":2}}}}},
{"data":{"name":"main"},"mark":{"type":"line","strokeWidth":1.6,"clip":true},"encoding":{"x":{"field":"k","type":"quantitative"},"y":{"field":"s5","type":"quantitative"},"color":{"datum":"paired fixed","scale":{"domain":["paired fixed","fixed"],"range":["black","#8a2be2"]},"legend":{"title":null,"orient":"top-right","direction":"horizontal","offset":10,"padding":0,"symbolType":"M-3.8,0H3.8","symbolSize":36,"symbolStrokeWidth":2,"labelOffset":16.4,"columnPadding":16.6}}}},
{"data":{"name":"fixed"},"mark":{"type":"line","strokeWidth":1.6,"clip":true},"encoding":{"x":{"field":"k","type":"quantitative"},"y":{"field":"f","type":"quantitative"},"color":{"datum":"fixed"}}},
{"data":{"values":[{}]},"mark":{"type":"rule","color":"black","strokeDash":[6,3],"strokeWidth":1.3},"encoding":{"y":{"datum":1,"type":"quantitative"}}}
]}
]}
]},
{"spacing":22.2,"resolve":{"scale":{"color":"independent"}},"hconcat":[
{"spacing":0,"bounds":"flush","resolve":{"scale":{"color":"independent"}},"vconcat":[
{"title":{"text":"Pgg(k) [(h⁻¹Mpc)³]\u00a0\u00a0 :\u00a0\u00a0 z = 0","offset":7.4},"width":379,"height":144,"data":{"name":"val"},"layer":[
{"mark":{"type":"area","color":"blue","yOffset":1.5,"clip":true},"encoding":{"x":{"field":"k","type":"quantitative","scale":{"type":"log","domain":[0.0377,5.02],"nice":false},"axis":null},"y":{"field":"r0gl","type":"quantitative","scale":{"type":"log","domain":[16,28000],"nice":false},"axis":{"title":"value","values":[20,30,40,50,60,70,80,90,100,200,300,400,500,600,700,800,900,1000,2000,3000,4000,5000,6000,7000,8000,9000,10000,20000],"labelExpr":"datum.value == 1 ? '10⁰' : datum.value == 10 ? '10¹' : datum.value == 100 ? '10²' : datum.value == 1000 ? '10³' : datum.value == 10000 ? '10⁴' : ''","tickSize":{"condition":{"test":"indexof([1,10,100,1000,10000], datum.value) >= 0","value":3.5},"value":2}}},"y2":{"field":"r0gh"}}},
{"mark":{"type":"line","color":"blue","strokeWidth":3.2,"yOffset":1.2,"clip":true},"encoding":{"x":{"field":"k","type":"quantitative","axis":null},"y":{"field":"v0g","type":"quantitative"}}},
{"mark":{"type":"rule","color":"blue","strokeWidth":1.5,"clip":true},"encoding":{"x":{"field":"k","type":"quantitative","axis":null},"y":{"field":"e0gl","type":"quantitative"},"y2":{"field":"e0gh"}}},
{"mark":{"type":"tick","orient":"horizontal","color":"blue","size":8,"thickness":1.5,"opacity":1,"clip":true},"encoding":{"x":{"field":"k","type":"quantitative","axis":null},"y":{"field":"e0gl","type":"quantitative"}}},
{"mark":{"type":"tick","orient":"horizontal","color":"blue","size":8,"thickness":1.5,"opacity":1,"clip":true},"encoding":{"x":{"field":"k","type":"quantitative","axis":null},"y":{"field":"e0gh","type":"quantitative"}}},
{"mark":{"type":"area","color":"red","clip":true},"encoding":{"x":{"field":"k","type":"quantitative","axis":null},"y":{"field":"r0gl","type":"quantitative"},"y2":{"field":"r0gh"}}},
{"mark":{"type":"line","strokeWidth":2.2,"clip":true},"encoding":{"x":{"field":"k","type":"quantitative","axis":null},"y":{"field":"v0g","type":"quantitative"},"color":{"datum":"25 paired fixed simulations","scale":{"domain":["30 standard\u00a0\u00a0\u00a0\u00a0\u00a0\u00a0\u00a0simulations","25 paired fixed simulations"],"range":["blue","red"]},"legend":{"title":null,"orient":"top-right","offset":9,"padding":0,"symbolType":"M-4,0H4M0,-1.9V1.9M-1.45,-1.9H1.45M-1.45,1.9H1.45","symbolSize":36,"symbolStrokeWidth":2,"labelOffset":17,"rowPadding":-3}}}}
]},
{"width":379,"height":115,"layer":[
{"data":{"values":[{}]},"mark":{"type":"rect","color":"#cccccc"},"encoding":{"y":{"datum":-2,"type":"quantitative","scale":{"domain":[-3.3,3.3],"nice":false,"zero":false},"axis":{"values":[-2,0,2],"title":"bias (σ)"}},"y2":{"datum":2}}},
{"data":{"values":[{}]},"mark":{"type":"rule","color":"black","strokeDash":[6,3],"strokeWidth":1.3},"encoding":{"y":{"datum":0,"type":"quantitative"}}},
{"data":{"name":"main"},"mark":{"type":"line","color":"green","strokeWidth":1.5,"clip":true},"encoding":{"x":{"field":"k","type":"quantitative","scale":{"type":"log","domain":[0.0377,5.02],"nice":false},"axis":null},"y":{"field":"b0x","type":"quantitative"}}}
]},
{"width":379,"height":115,"data":{"values":[{}]},"mark":{"type":"rule","color":"#333333","strokeDash":[2.5,2],"strokeWidth":1},"encoding":{"y":{"datum":1,"type":"quantitative","scale":{"domain":[-0.09,1.3],"nice":false,"zero":false},"axis":{"values":[0,0.5,1],"format":".1f","title":"√1+r"}}}},
{"width":379,"height":115,"layer":[
{"data":{"name":"main"},"mark":{"type":"line","color":"#c8c8c8","strokeWidth":6,"clip":true},"encoding":{"x":{"field":"k","type":"quantitative","scale":{"type":"log","domain":[0.0377,5.02],"nice":false},"axis":{"values":[0.04,0.05,0.06,0.07,0.08,0.09,0.1,0.2,0.3,0.4,0.5,0.6,0.7,0.8,0.9,1,2,3,4,5],"labelExpr":"datum.value == 0.1 ? '10⁻¹' : datum.value == 1 ? '10⁰' : ''","tickSize":{"condition":{"test":"datum.value == 0.1 || datum.value == 1","value":3.5},"value":2},"title":"k [hMpc⁻¹]"}},"y":{"field":"s0","type":"quantitative","scale":{"type":"log","domain":[0.745,2000],"nice":false},"axis":{"title":"σₛ/σ","values":[0.8,0.9,1,2,3,4,5,6,7,8,9,10,20,30,40,50,60,70,80,90,100,200,300,400,500,600,700,800,900,1000,2000],"labelExpr":"datum.value == 1 ? '10⁰' : datum.value == 10 ? '10¹' : datum.value == 100 ? '10²' : datum.value == 1000 ? '10³' : datum.value == 10000 ? '10⁴' : ''","tickSize":{"condition":{"test":"indexof([1,10,100,1000,10000], datum.value) >= 0","value":3.5},"value":2}}}}},
{"data":{"name":"main"},"mark":{"type":"line","strokeWidth":1.6,"clip":true},"encoding":{"x":{"field":"k","type":"quantitative"},"y":{"field":"s0","type":"quantitative"},"color":{"datum":"paired fixed","scale":{"domain":["paired fixed","fixed"],"range":["black","#8a2be2"]},"legend":{"title":null,"orient":"top-right","direction":"horizontal","offset":10,"padding":0,"symbolType":"M-3.8,0H3.8","symbolSize":36,"symbolStrokeWidth":2,"labelOffset":16.4,"columnPadding":16.6}}}},
{"data":{"name":"fixed"},"mark":{"type":"line","strokeWidth":1.6,"clip":true},"encoding":{"x":{"field":"k","type":"quantitative"},"y":{"field":"f","type":"quantitative"},"color":{"datum":"fixed"}}},
{"data":{"values":[{}]},"mark":{"type":"rule","color":"black","strokeDash":[6,3],"strokeWidth":1.3},"encoding":{"y":{"datum":1,"type":"quantitative"}}}
]}
]},
{"spacing":0,"bounds":"flush","resolve":{"scale":{"color":"independent"}},"vconcat":[
{"title":{"text":"Pgg(k) [(h⁻¹Mpc)³]\u00a0\u00a0 :\u00a0\u00a0 z = 1","offset":3},"width":379,"height":144,"data":{"name":"val"},"layer":[
{"mark":{"type":"area","color":"blue","yOffset":1.5,"clip":true},"encoding":{"x":{"field":"k","type":"quantitative","scale":{"type":"log","domain":[0.0377,5.02],"nice":false},"axis":null},"y":{"field":"r1gl","type":"quantitative","scale":{"type":"log","domain":[2,9100],"nice":false},"axis":{"title":"value","values":[2,3,4,5,6,7,8,9,10,20,30,40,50,60,70,80,90,100,200,300,400,500,600,700,800,900,1000,2000,3000,4000,5000,6000,7000,8000,9000],"labelExpr":"datum.value == 1 ? '10⁰' : datum.value == 10 ? '10¹' : datum.value == 100 ? '10²' : datum.value == 1000 ? '10³' : datum.value == 10000 ? '10⁴' : ''","tickSize":{"condition":{"test":"indexof([1,10,100,1000,10000], datum.value) >= 0","value":3.5},"value":2}}},"y2":{"field":"r1gh"}}},
{"mark":{"type":"line","color":"blue","strokeWidth":3.2,"yOffset":1.2,"clip":true},"encoding":{"x":{"field":"k","type":"quantitative","axis":null},"y":{"field":"v1g","type":"quantitative"}}},
{"mark":{"type":"rule","color":"blue","strokeWidth":1.5,"clip":true},"encoding":{"x":{"field":"k","type":"quantitative","axis":null},"y":{"field":"e1gl","type":"quantitative"},"y2":{"field":"e1gh"}}},
{"mark":{"type":"tick","orient":"horizontal","color":"blue","size":8,"thickness":1.5,"opacity":1,"clip":true},"encoding":{"x":{"field":"k","type":"quantitative","axis":null},"y":{"field":"e1gl","type":"quantitative"}}},
{"mark":{"type":"tick","orient":"horizontal","color":"blue","size":8,"thickness":1.5,"opacity":1,"clip":true},"encoding":{"x":{"field":"k","type":"quantitative","axis":null},"y":{"field":"e1gh","type":"quantitative"}}},
{"mark":{"type":"area","color":"red","clip":true},"encoding":{"x":{"field":"k","type":"quantitative","axis":null},"y":{"field":"r1gl","type":"quantitative"},"y2":{"field":"r1gh"}}},
{"mark":{"type":"line","strokeWidth":2.2,"clip":true},"encoding":{"x":{"field":"k","type":"quantitative","axis":null},"y":{"field":"v1g","type":"quantitative"},"color":{"datum":"25 paired fixed simulations","scale":{"domain":["30 standard\u00a0\u00a0\u00a0\u00a0\u00a0\u00a0\u00a0simulations","25 paired fixed simulations"],"range":["blue","red"]},"legend":{"title":null,"orient":"top-right","offset":9,"padding":0,"symbolType":"M-4,0H4M0,-1.9V1.9M-1.45,-1.9H1.45M-1.45,1.9H1.45","symbolSize":36,"symbolStrokeWidth":2,"labelOffset":17,"rowPadding":-3}}}}
]},
{"width":379,"height":115,"layer":[
{"data":{"values":[{}]},"mark":{"type":"rect","color":"#cccccc"},"encoding":{"y":{"datum":-2,"type":"quantitative","scale":{"domain":[-3.3,3.3],"nice":false,"zero":false},"axis":{"values":[-2,0,2],"title":"bias (σ)"}},"y2":{"datum":2}}},
{"data":{"values":[{}]},"mark":{"type":"rule","color":"black","strokeDash":[6,3],"strokeWidth":1.3},"encoding":{"y":{"datum":0,"type":"quantitative"}}},
{"data":{"name":"main"},"mark":{"type":"line","color":"green","strokeWidth":1.5,"clip":true},"encoding":{"x":{"field":"k","type":"quantitative","scale":{"type":"log","domain":[0.0377,5.02],"nice":false},"axis":null},"y":{"field":"b1","type":"quantitative"}}}
]},
{"width":379,"height":115,"data":{"values":[{}]},"mark":{"type":"rule","color":"#333333","strokeDash":[2.5,2],"strokeWidth":1},"encoding":{"y":{"datum":1,"type":"quantitative","scale":{"domain":[-0.09,1.3],"nice":false,"zero":false},"axis":{"values":[0,0.5,1],"format":".1f","title":"√1+r"}}}},
{"width":379,"height":115,"layer":[
{"data":{"name":"main"},"mark":{"type":"line","color":"#c8c8c8","strokeWidth":6,"clip":true},"encoding":{"x":{"field":"k","type":"quantitative","scale":{"type":"log","domain":[0.0377,5.02],"nice":false},"axis":{"values":[0.04,0.05,0.06,0.07,0.08,0.09,0.1,0.2,0.3,0.4,0.5,0.6,0.7,0.8,0.9,1,2,3,4,5],"labelExpr":"datum.value == 0.1 ? '10⁻¹' : datum.value == 1 ? '10⁰' : ''","tickSize":{"condition":{"test":"datum.value == 0.1 || datum.value == 1","value":3.5},"value":2},"title":"k [hMpc⁻¹]"}},"y":{"field":"s1","type":"quantitative","scale":{"type":"log","domain":[0.745,2000],"nice":false},"axis":{"title":"σₛ/σ","values":[0.8,0.9,1,2,3,4,5,6,7,8,9,10,20,30,40,50,60,70,80,90,100,200,300,400,500,600,700,800,900,1000,2000],"labelExpr":"datum.value == 1 ? '10⁰' : datum.value == 10 ? '10¹' : datum.value == 100 ? '10²' : datum.value == 1000 ? '10³' : datum.value == 10000 ? '10⁴' : ''","tickSize":{"condition":{"test":"indexof([1,10,100,1000,10000], datum.value) >= 0","value":3.5},"value":2}}}}},
{"data":{"name":"main"},"mark":{"type":"line","strokeWidth":1.6,"clip":true},"encoding":{"x":{"field":"k","type":"quantitative"},"y":{"field":"s1","type":"quantitative"},"color":{"datum":"paired fixed","scale":{"domain":["paired fixed","fixed"],"range":["black","#8a2be2"]},"legend":{"title":null,"orient":"top-right","direction":"horizontal","offset":10,"padding":0,"symbolType":"M-3.8,0H3.8","symbolSize":36,"symbolStrokeWidth":2,"labelOffset":16.4,"columnPadding":16.6}}}},
{"data":{"name":"fixed"},"mark":{"type":"line","strokeWidth":1.6,"clip":true},"encoding":{"x":{"field":"k","type":"quantitative"},"y":{"field":"f","type":"quantitative"},"color":{"datum":"fixed"}}},
{"data":{"values":[{}]},"mark":{"type":"rule","color":"black","strokeDash":[6,3],"strokeWidth":1.3},"encoding":{"y":{"datum":1,"type":"quantitative"}}}
]}
]},
{"spacing":0,"bounds":"flush","resolve":{"scale":{"color":"independent"}},"vconcat":[
{"title":{"text":"Pgg(k) [(h⁻¹Mpc)³]\u00a0\u00a0 :\u00a0\u00a0 z = 5","offset":2.1},"width":379,"height":144,"data":{"name":"val"},"layer":[
{"mark":{"type":"area","color":"blue","yOffset":1.5,"clip":true},"encoding":{"x":{"field":"k","type":"quantitative","scale":{"type":"log","domain":[0.0377,5.02],"nice":false},"axis":null},"y":{"field":"r5l","type":"quantitative","scale":{"type":"log","domain":[0.155,1000],"nice":false},"axis":{"title":"value","values":[0.2,0.3,0.4,0.5,0.6,0.7,0.8,0.9,1,2,3,4,5,6,7,8,9,10,20,30,40,50,60,70,80,90,100,200,300,400,500,600,700,800,900,1000],"labelExpr":"datum.value == 1 ? '10⁰' : datum.value == 10 ? '10¹' : datum.value == 100 ? '10²' : datum.value == 1000 ? '10³' : datum.value == 10000 ? '10⁴' : ''","tickSize":{"condition":{"test":"indexof([1,10,100,1000,10000], datum.value) >= 0","value":3.5},"value":2}}},"y2":{"field":"r5h"}}},
{"mark":{"type":"line","color":"blue","strokeWidth":3.2,"yOffset":1.2,"clip":true},"encoding":{"x":{"field":"k","type":"quantitative","axis":null},"y":{"field":"v5","type":"quantitative"}}},
{"mark":{"type":"rule","color":"blue","strokeWidth":1.5,"clip":true},"encoding":{"x":{"field":"k","type":"quantitative","axis":null},"y":{"field":"e5l","type":"quantitative"},"y2":{"field":"e5h"}}},
{"mark":{"type":"tick","orient":"horizontal","color":"blue","size":8,"thickness":1.5,"opacity":1,"clip":true},"encoding":{"x":{"field":"k","type":"quantitative","axis":null},"y":{"field":"e5l","type":"quantitative"}}},
{"mark":{"type":"tick","orient":"horizontal","color":"blue","size":8,"thickness":1.5,"opacity":1,"clip":true},"encoding":{"x":{"field":"k","type":"quantitative","axis":null},"y":{"field":"e5h","type":"quantitative"}}},
{"mark":{"type":"area","color":"red","clip":true},"encoding":{"x":{"field":"k","type":"quantitative","axis":null},"y":{"field":"r5l","type":"quantitative"},"y2":{"field":"r5h"}}},
{"mark":{"type":"line","strokeWidth":2.2,"clip":true},"encoding":{"x":{"field":"k","type":"quantitative","axis":null},"y":{"field":"v5","type":"quantitative"},"color":{"datum":"25 paired fixed simulations","scale":{"domain":["30 standard\u00a0\u00a0\u00a0\u00a0\u00a0\u00a0\u00a0simulations","25 paired fixed simulations"],"range":["blue","red"]},"legend":{"title":null,"orient":"top-right","offset":9,"padding":0,"symbolType":"M-4,0H4M0,-1.9V1.9M-1.45,-1.9H1.45M-1.45,1.9H1.45","symbolSize":36,"symbolStrokeWidth":2,"labelOffset":17,"rowPadding":-3}}}}
]},
{"width":379,"height":115,"layer":[
{"data":{"values":[{}]},"mark":{"type":"rect","color":"#cccccc"},"encoding":{"y":{"datum":-2,"type":"quantitative","scale":{"domain":[-3.3,3.3],"nice":false,"zero":false},"axis":{"values":[-2,0,2],"title":"bias (σ)"}},"y2":{"datum":2}}},
{"data":{"values":[{}]},"mark":{"type":"rule","color":"black","strokeDash":[6,3],"strokeWidth":1.3},"encoding":{"y":{"datum":0,"type":"quantitative"}}},
{"data":{"name":"main"},"mark":{"type":"line","color":"green","strokeWidth":1.5,"clip":true},"encoding":{"x":{"field":"k","type":"quantitative","scale":{"type":"log","domain":[0.0377,5.02],"nice":false},"axis":null},"y":{"field":"b5","type":"quantitative"}}}
]},
{"width":379,"height":115,"data":{"values":[{}]},"mark":{"type":"rule","color":"#333333","strokeDash":[2.5,2],"strokeWidth":1},"encoding":{"y":{"datum":1,"type":"quantitative","scale":{"domain":[-0.09,1.3],"nice":false,"zero":false},"axis":{"values":[0,0.5,1],"format":".1f","title":"√1+r"}}}},
{"width":379,"height":115,"layer":[
{"data":{"name":"main"},"mark":{"type":"line","color":"#c8c8c8","strokeWidth":6,"clip":true},"encoding":{"x":{"field":"k","type":"quantitative","scale":{"type":"log","domain":[0.0377,5.02],"nice":false},"axis":{"values":[0.04,0.05,0.06,0.07,0.08,0.09,0.1,0.2,0.3,0.4,0.5,0.6,0.7,0.8,0.9,1,2,3,4,5],"labelExpr":"datum.value == 0.1 ? '10⁻¹' : datum.value == 1 ? '10⁰' : ''","tickSize":{"condition":{"test":"datum.value == 0.1 || datum.value == 1","value":3.5},"value":2},"title":"k [hMpc⁻¹]"}},"y":{"field":"s5g","type":"quantitative","scale":{"type":"log","domain":[0.745,2000],"nice":false},"axis":{"title":"σₛ/σ","values":[0.8,0.9,1,2,3,4,5,6,7,8,9,10,20,30,40,50,60,70,80,90,100,200,300,400,500,600,700,800,900,1000,2000],"labelExpr":"datum.value == 1 ? '10⁰' : datum.value == 10 ? '10¹' : datum.value == 100 ? '10²' : datum.value == 1000 ? '10³' : datum.value == 10000 ? '10⁴' : ''","tickSize":{"condition":{"test":"indexof([1,10,100,1000,10000], datum.value) >= 0","value":3.5},"value":2}}}}},
{"data":{"name":"main"},"mark":{"type":"line","strokeWidth":1.6,"clip":true},"encoding":{"x":{"field":"k","type":"quantitative"},"y":{"field":"s5g","type":"quantitative"},"color":{"datum":"paired fixed","scale":{"domain":["paired fixed","fixed"],"range":["black","#8a2be2"]},"legend":{"title":null,"orient":"top-right","direction":"horizontal","offset":10,"padding":0,"symbolType":"M-3.8,0H3.8","symbolSize":36,"symbolStrokeWidth":2,"labelOffset":16.4,"columnPadding":16.6}}}},
{"data":{"name":"fixed"},"mark":{"type":"line","strokeWidth":1.6,"clip":true},"encoding":{"x":{"field":"k","type":"quantitative"},"y":{"field":"f","type":"quantitative"},"color":{"datum":"fixed"}}},
{"data":{"values":[{}]},"mark":{"type":"rule","color":"black","strokeDash":[6,3],"strokeWidth":1.3},"encoding":{"y":{"datum":1,"type":"quantitative"}}}
]}
]}
]}
]
}
